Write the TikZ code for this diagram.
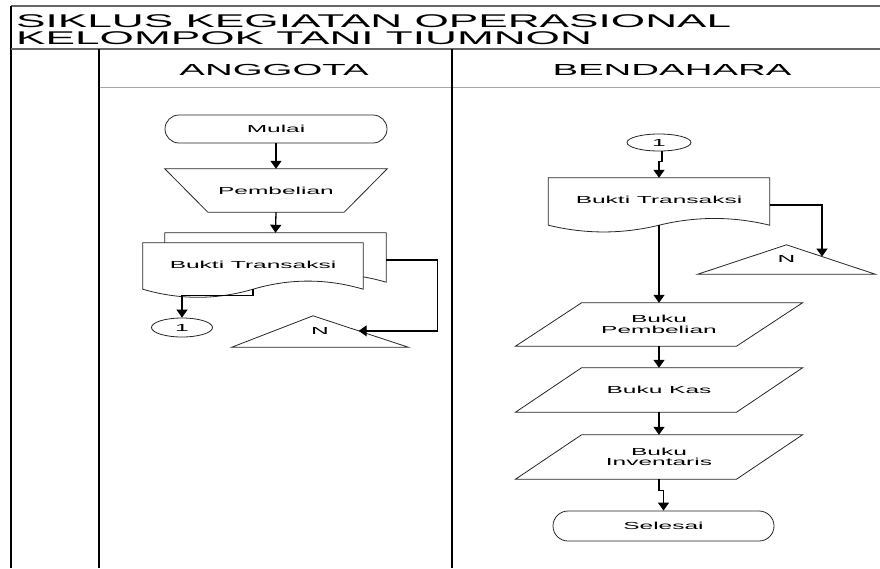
\documentclass[tikz,border=0pt]{standalone}
\usepackage{fontspec}
\setmainfont{Liberation Sans}[FakeStretch=2.4]
\usetikzlibrary{arrows.meta,shapes.geometric,calc}
\pgfdeclarelayer{sheets}
\pgfsetlayers{sheets,main}

% document symbol with a wavy lower edge, drawn round a box node
\newcommand{\docoutline}[4][]{%
  \draw[shp,#1] (#2.north west) -- (#2.north east) -- (#2.south east)
    .. controls +(-#3/6,-0.6*#4) and +(#3/6,-0.6*#4) .. (#2.south)
    .. controls +(-#3/6,0.6*#4) and +(#3/6,0.6*#4) .. (#2.south west) -- cycle;}
% data (parallelogram) symbol round a box node
\newcommand{\dataoutline}[1]{%
  \draw[shp] ($(#1.north)+(-77.5,0)$) -- ++(221,0)
    -- ($(#1.south)+(77.5,0)$) -- ++(-221,0) -- cycle;}
\newcommand{\lbl}{\fontsize{10.2}{10.5}\selectfont}

\begin{document}
\begin{tikzpicture}[x=1pt,y=-1pt,
  frame/.style={line width=1.4pt,black},
  shp/.style={draw=black!85,line width=0.8pt},
  box/.style={inner sep=0pt,align=center,font=\lbl},
  term/.style={shp,rounded corners=14pt,inner sep=0pt,font=\lbl},
  conn/.style={draw=black,line width=1.3pt,-{Triangle[width=11pt,length=8pt]}},
  oval/.style={shp,ellipse,inner sep=0pt,font=\lbl},
  title/.style={anchor=base west,inner sep=0pt,font=\fontsize{18.4}{18}\selectfont},
  head/.style={anchor=base,inner sep=0pt,font=\fontsize{16}{16}\selectfont}]
\useasboundingbox (0,0) rectangle (880,568);

% ---- swimlane frame ----
\draw[line width=1.2pt,black!60] (11,6) -- (880,6);
\draw[frame] (11,6) -- (11,568);
\draw[line width=1.8pt,black!60] (11,49) -- (880,49);
\draw[line width=1pt,black!35] (99,87) -- (880,87);
\draw[frame] (99,49) -- (99,568);
\draw[frame] (452,49) -- (452,568);

\node[title] (title1) at (16,27) {SIKLUS KEGIATAN OPERASIONAL};
\node[title] (title2) at (16,44) {KELOMPOK TANI TIUMNON};
\node[head] (lane1) at (274,75) {ANGGOTA};
\node[head] (lane2) at (672,75) {BENDAHARA};

% ---- ANGGOTA lane ----
\node[term,minimum width=222pt,minimum height=28pt] (mulai) at (276,129) {Mulai};

\node[box,minimum width=222pt,minimum height=43pt] (pemb) at (276,190.5) {Pembelian};
\draw[shp] (pemb.north west) -- (pemb.north east)
  -- ([xshift=-43pt]pemb.south east) -- ([xshift=43pt]pemb.south west) -- cycle;

% stacked documents: back sheet, then front sheet
\node[box,minimum width=221pt,minimum height=49pt] (btlb) at (275.5,257.5) {};
\node[box,minimum width=220pt,minimum height=46pt] (btl) at (253,266) {\raisebox{3pt}{Bukti Transaksi}};
\begin{pgfonlayer}{sheets}
\docoutline[fill=white]{btlb}{221}{18}
\docoutline[fill=white]{btl}{220}{18}
\end{pgfonlayer}

\node[oval,minimum width=61pt,minimum height=19pt] (c1l) at (182,327.5) {1};

\node[box,minimum width=176pt,minimum height=31pt] (nl) at (320,331.5) {\raisebox{1pt}{N}};
\draw[shp] (nl.south west) -- ([xshift=-7pt]nl.north) -- (nl.south east) -- cycle;
\coordinate (nlin) at ($([xshift=-7pt]nl.north)!0.48!(nl.south east)$);

\draw[conn] (mulai.south) -- (pemb.north);
\draw[conn] (pemb.south) -- (btlb.north);
\draw[conn] (btl.south) -- ++(0,6) -| (c1l.north);
\draw[conn] ([yshift=-2.5pt]btlb.east) -- ++(51,0) |- (nlin);

% ---- BENDAHARA lane ----
\node[oval,minimum width=64pt,minimum height=17pt] (c1r) at (659,142.5) {1};

\node[box,minimum width=221pt,minimum height=47pt] (btr) at (659,201.5) {\raisebox{3.5pt}{Bukti Transaksi}};
\docoutline{btr}{221}{15}

\node[box,minimum width=177pt,minimum height=29pt] (nr) at (786.5,259.5) {\raisebox{1pt}{N}};
\draw[shp] (nr.south west) -- (nr.north) -- (nr.south east) -- cycle;
\coordinate (nrin) at ($(nr.north)!0.4!(nr.south east)$);

\node[box,minimum width=150pt,minimum height=43pt] (bp) at (659,324.5) {Buku\\Pembelian};
\dataoutline{bp}
\node[box,minimum width=150pt,minimum height=44pt] (bk) at (659,390) {Buku Kas};
\dataoutline{bk}
\node[box,minimum width=150pt,minimum height=44pt] (bi) at (659,457) {Buku\\Inventaris};
\dataoutline{bi}

\node[term,rounded corners=15pt,minimum width=221pt,minimum height=30pt] (sel) at (663.5,526) {Selesai};

\draw[conn] ([xshift=3pt]c1r.south) -- ++(0,10) -| (btr.north);
\draw[conn] ([yshift=-3.5pt]btr.east) -| (nrin);
\draw[conn] (btr.south) -- (bp.north);
\draw[conn] (bp.south) -- (bk.north);
\draw[conn] (bk.south) -- (bi.north);
\draw[conn] (bi.south) -- ++(0,11) -| (sel.north);
\end{tikzpicture}
\end{document}
